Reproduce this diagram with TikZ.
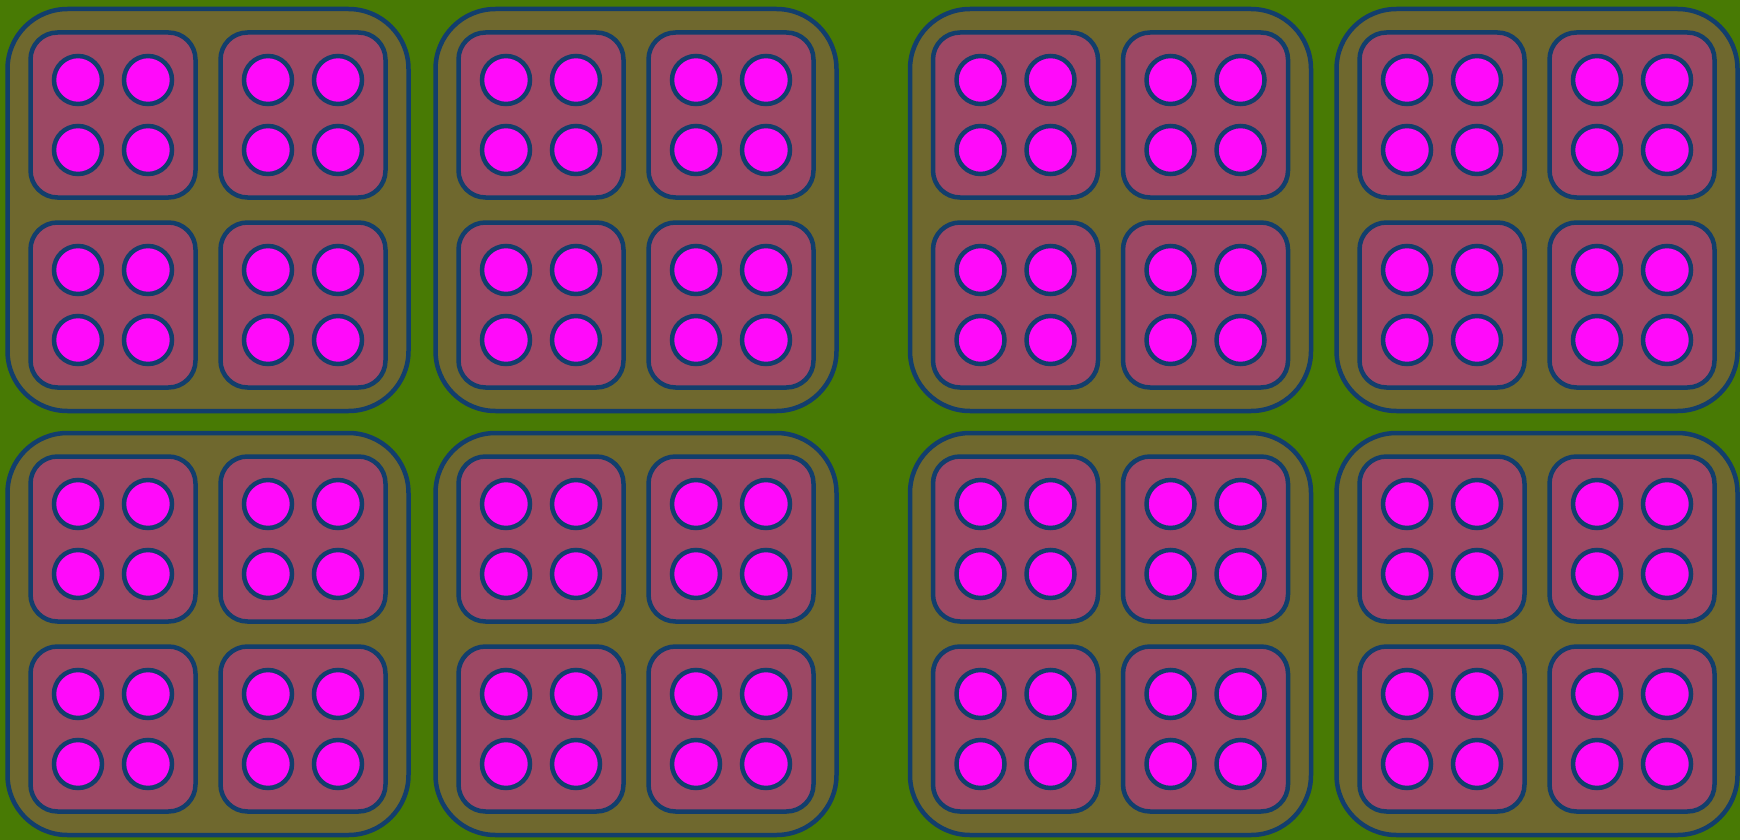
\documentclass[tikz,border=0pt]{standalone}
\definecolor{bggreen}{RGB}{72,122,4}
\definecolor{olivefill}{RGB}{111,104,46}
\definecolor{mauvefill}{RGB}{156,72,100}
\definecolor{dotfill}{RGB}{255,10,250}
\definecolor{edgeblue}{RGB}{18,62,108}
\tikzset{
  outerbox/.style={draw=edgeblue, fill=olivefill, line width=4.5pt, rounded corners=60pt,
    minimum width=401pt, minimum height=402pt, inner sep=0pt, outer sep=0pt},
  innerbox/.style={draw=edgeblue, fill=mauvefill, line width=4.5pt, rounded corners=27pt,
    minimum width=165pt, minimum height=165pt, inner sep=0pt, outer sep=0pt},
  dot/.style={circle, draw=edgeblue, fill=dotfill, line width=4.5pt,
    minimum size=48pt, inner sep=0pt, outer sep=0pt}
}
\begin{document}
\begin{tikzpicture}[x=1pt,y=-1pt]
\useasboundingbox (0,0) rectangle (1740,840);
\fill[bggreen] (0,0) rectangle (1740,840);
\foreach \cx [count=\i] in {208,636,1110.5,1537}{
  \foreach \cy [count=\j] in {210,634}{
    \node[outerbox] (o\i\j) at (\cx,\cy) {};
    \foreach \dx [count=\a] in {-95,95}{
      \foreach \dy [count=\b] in {-95,95}{
        \node[innerbox] (b\i\j\a\b) at (\cx+\dx,\cy+\dy) {};
        \foreach \ex [count=\p] in {-35,35}{
          \foreach \ey [count=\q] in {-35,35}{
            \node[dot] (d\i\j\a\b\p\q) at (\cx+\dx+\ex,\cy+\dy+\ey) {};
          }
        }
      }
    }
  }
}
\end{tikzpicture}
\end{document}
